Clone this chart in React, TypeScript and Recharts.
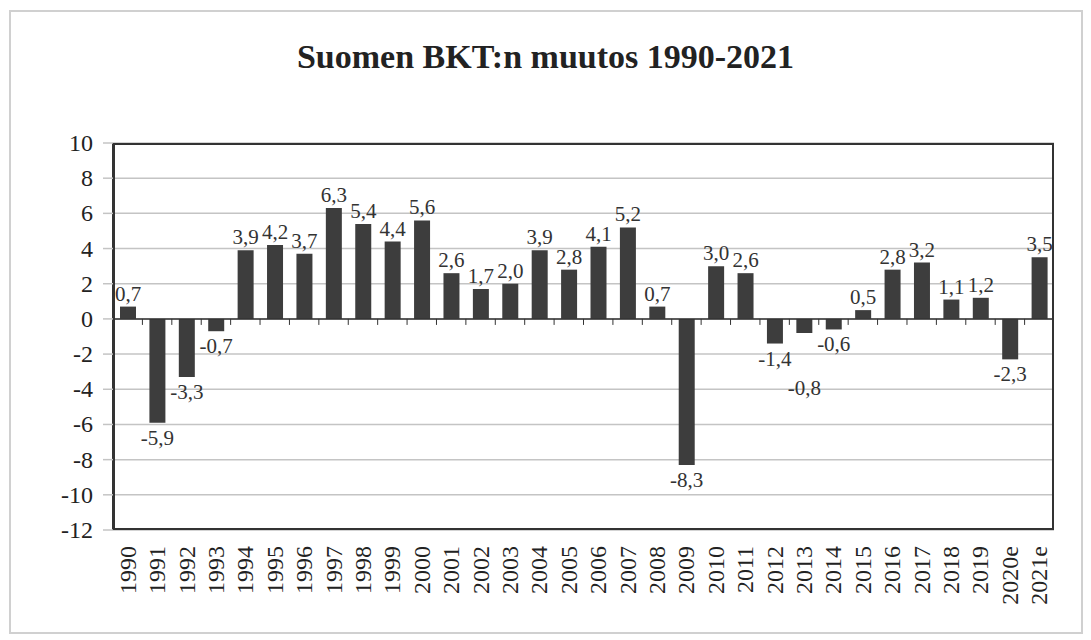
import { BarChart, Bar, XAxis, YAxis, CartesianGrid, ReferenceLine, LabelList } from 'recharts';

const years = [
  '1990', '1991', '1992', '1993', '1994', '1995', '1996', '1997', '1998', '1999',
  '2000', '2001', '2002', '2003', '2004', '2005', '2006', '2007', '2008', '2009',
  '2010', '2011', '2012', '2013', '2014', '2015', '2016', '2017', '2018', '2019',
  '2020e', '2021e',
];
const gdpChange = [
  0.7, -5.9, -3.3, -0.7, 3.9, 4.2, 3.7, 6.3, 5.4, 4.4,
  5.6, 2.6, 1.7, 2.0, 3.9, 2.8, 4.1, 5.2, 0.7, -8.3,
  3.0, 2.6, -1.4, -0.8, -0.6, 0.5, 2.8, 3.2, 1.1, 1.2,
  -2.3, 3.5,
];
const yTicks = [-12, -10, -8, -6, -4, -2, 0, 2, 4, 6, 8, 10];

const data = years.map((year, i) => ({ year, change: gdpChange[i] }));

const W = 1091;
const H = 640;
const plotLeft = 113;
const plotTop = 143;
const plotRight = 1054;
const plotBottom = 530;
const yMin = -12;
const yMax = 10;
const band = (plotRight - plotLeft) / years.length;
const zeroY = plotTop + ((yMax - 0) / (yMax - yMin)) * (plotBottom - plotTop);
const serif = 'Liberation Serif, DejaVu Serif, serif';

const fmt = (v: number) => v.toFixed(1).replace('.', ',');

const YearTick = (props: any) => {
  const { x, payload, index } = props;
  return (
    <g>
      {index > 0 && (
        <line x1={x - band / 2} x2={x - band / 2} y1={zeroY} y2={zeroY + 6} stroke="#333" strokeWidth={1} />
      )}
      <text
        transform={`translate(${x + 8},${plotBottom + 16}) rotate(-90)`}
        textAnchor="end"
        style={{ fontFamily: serif, fontSize: 24 }}
        fill="#222"
      >
        {payload.value}
      </text>
    </g>
  );
};

const ValueTick = (props: any) => {
  const { x, y, payload } = props;
  return (
    <text x={x} y={y} dy={8} textAnchor="end" style={{ fontFamily: serif, fontSize: 24 }} fill="#222">
      {payload.value}
    </text>
  );
};

const ValueLabel = (props: any) => {
  const { x, y, width, height, value, index } = props;
  const top = Math.min(y, y + height);
  const bottom = Math.max(y, y + height);
  const cx = x + width / 2;
  // 2013 label sits lower in the original so it does not collide with its neighbours
  const extra = years[index] === '2013' ? 40 : 0;
  const ty = value >= 0 ? top - 6 : bottom + 22 + extra;
  return (
    <text x={cx} y={ty} textAnchor="middle" style={{ fontFamily: serif, fontSize: 21 }} fill="#333">
      {fmt(value)}
    </text>
  );
};

export default function App() {
  return (
    <div style={{ position: 'absolute', left: 0, top: 0, width: W, height: H, background: '#fff' }}>
      <div
        style={{
          position: 'absolute', left: 9, top: 10, width: 1074, height: 624,
          border: '2px solid #d0d0d0', boxSizing: 'border-box',
        }}
      />
      <div
        style={{
          position: 'absolute', left: 0, top: 38, width: W, textAlign: 'center',
          fontFamily: serif, fontWeight: 'bold', fontSize: 34, color: '#222',
        }}
      >
        Suomen BKT:n muutos 1990-2021
      </div>
      <div style={{ position: 'absolute', left: 0, top: 0 }}>
        <BarChart
          width={W}
          height={H}
          data={data}
          margin={{ top: plotTop, right: W - plotRight, bottom: 0, left: plotLeft - 70 }}
          barSize={16}
        >
          <CartesianGrid vertical={false} stroke="#c4c4c4" strokeWidth={1.5} />
          <XAxis
            dataKey="year"
            interval={0}
            axisLine={false}
            tickLine={false}
            height={H - plotBottom}
            tick={<YearTick />}
          />
          <YAxis
            domain={[yMin, yMax]}
            ticks={yTicks}
            interval={0}
            width={70}
            axisLine={{ stroke: '#333', strokeWidth: 2 }}
            tickLine={{ stroke: '#c4c4c4', strokeWidth: 1.5 }}
            tickSize={10}
            tickMargin={10}
            tick={<ValueTick />}
          />
          <ReferenceLine y={0} stroke="#333" strokeWidth={1.5} />
          <Bar dataKey="change" fill="#3d3d3d" isAnimationActive={false}>
            <LabelList dataKey="change" content={<ValueLabel />} />
          </Bar>
        </BarChart>
      </div>
      <div
        style={{
          position: 'absolute', left: plotLeft, top: plotTop,
          width: plotRight - plotLeft, height: plotBottom - plotTop,
          border: '2px solid #333', boxSizing: 'border-box', pointerEvents: 'none',
        }}
      />
    </div>
  );
}
